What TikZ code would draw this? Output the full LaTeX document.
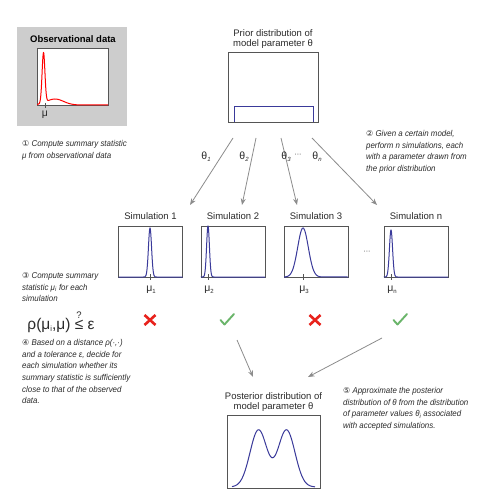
\documentclass[tikz,border=0pt]{standalone}
\usepackage{amsmath}
\usepackage{fontspec}
\setmainfont{Liberation Sans}
\newfontfamily\narrowfont[FakeStretch=0.93]{Liberation Sans}
\newfontfamily\circfont{DejaVu Sans}
\usetikzlibrary{arrows.meta}
\definecolor{plotblue}{HTML}{3A3A9A}
\definecolor{arrowgrey}{HTML}{8C8C8C}
\definecolor{boxgrey}{HTML}{CDCDCD}
\definecolor{xred}{HTML}{E8221C}
\definecolor{okgreen}{HTML}{6AB56A}
\definecolor{framegrey}{HTML}{555555}
\definecolor{textgrey}{HTML}{2A2A2A}
\newcommand\circnum[1]{{\circfont\fontsize{8}{8}\selectfont #1}}
\newcommand\smallsub[1]{\raisebox{-2pt}{\fontsize{6}{6}\selectfont #1}}
\begin{document}
\begin{tikzpicture}[x=1pt,y=-1pt,
  plotbox/.style={draw=framegrey, line width=0.6pt, fill=white, inner sep=0pt},
  steptext/.style={anchor=north west, inner sep=0pt, align=left, text=textgrey,
     font=\narrowfont\itshape\fontsize{8.5}{11.6}\selectfont},
  lbl/.style={inner sep=0pt, text=textgrey, font=\fontsize{9.5}{10.5}\selectfont},
  mulbl/.style={inner sep=0pt, text=textgrey, font=\fontsize{10.5}{11}\selectfont},
  flow/.style={draw=arrowgrey, line width=0.8pt, -{Stealth[length=6.5pt,width=5pt]}},
  curve/.style={plotblue, line width=1pt},
  tick/.style={framegrey, line width=0.6pt},
  xmark/.style={xred, line width=2.6pt},
  okmark/.style={okgreen, line width=1.9pt, line cap=round, line join=round},
  dotslbl/.style={inner sep=0pt, text=textgrey, font=\fontsize{7}{7}\selectfont}]
\useasboundingbox (0,0) rectangle (490,500);
\fill[white] (0,0) rectangle (490,500);

% ---- Observational data
\node[fill=boxgrey, minimum width=110pt, minimum height=99pt, inner sep=0pt] (obsbg) at (72,76.5) {};
\node[inner sep=0pt, font=\bfseries\fontsize{9.5}{11}\selectfont] (obstitle) at (73,39) {Observational data};
\node[plotbox, minimum width=71pt, minimum height=57pt] (obsplot) at (72.5,76.5) {};
\draw[red, line width=1pt] (37.5,105)
  -- plot[domain=38:50, samples=80, smooth] (\x, {105 - 50*exp(-((\x-43.5)/2)^2) - 6*exp(-((\x-55)/12)^2)})
  -- plot[domain=50:88, samples=40, smooth] (\x, {105 - 6*exp(-((\x-55)/12)^2)})
  -- (108,105);
\draw[tick] (45,103) -- (45,108);
\node[mulbl] (muobs) at (45,115) {μ};
\node[steptext] (step1) at (22,140.5) {\circnum{①} Compute summary statistic\\μ from observational data};

% ---- Prior
\node[lbl, align=center] (priortitle) at (273,39) {Prior distribution of\\model parameter θ};
\node[plotbox, minimum width=90pt, minimum height=70pt] (prior) at (273,87) {};
\draw[curve] (234,122) -- (234,107) -- (313,107) -- (313,122);

\node[steptext] (step2) at (366,130.3) {\circnum{②} Given a certain model,\\perform n simulations, each\\with a parameter drawn from\\the prior distribution};

% ---- arrows prior -> simulations
\coordinate (p1) at (233,138); \coordinate (e1) at (190,205);
\coordinate (p2) at (256,138); \coordinate (e2) at (242,205);
\coordinate (p3) at (281,138); \coordinate (e3) at (297,205);
\coordinate (p4) at (312,138); \coordinate (e4) at (377,205);
\draw[flow] (p1) -- (e1);
\draw[flow] (p2) -- (e2);
\draw[flow] (p3) -- (e3);
\draw[flow] (p4) -- (e4);
\node[mulbl] (th1) at (206,157) {θ\smallsub{\itshape 1}};
\node[mulbl] (th2) at (244,157) {θ\smallsub{\itshape 2}};
\node[mulbl] (th3) at (286,157) {θ\smallsub{\itshape 3}};
\node[dotslbl] (thdots) at (298,155) {···};
\node[mulbl] (thn) at (317,157) {θ\smallsub{\itshape n}};

% ---- Simulations
\foreach \n/\cx/\px/\s/\h/\da/\db in {1/150.5/150/2.2/49/142/158, 2/233/208/2/51/201/215, 3/316/303/7.5/49/285/322, n/416/391/2.2/47/384/399}{
  \node[plotbox, minimum width=64pt, minimum height=51pt] (sim\n) at (\cx,251.5) {};
  \node[lbl] (t\n) at (\cx,216) {Simulation \n};
  \draw[curve] (\cx-32,277) -- (\da,277)
     -- plot[domain=\da:\db, samples=60, smooth] (\x, {277 - \h*exp(-((\x-\px)/\s)^2)})
     -- (\cx+32,277);
  \draw[tick] (\px,274) -- (\px,280);
  \node[mulbl] (mu\n) at (\px+1,290) {μ\smallsub{\n}};
}
\node[dotslbl] (simdots) at (367,252) {···};

% ---- acceptance marks
\node[inner sep=0pt, minimum size=12pt] (m1) at (150,320) {};
\node[inner sep=0pt, minimum size=12pt] (m2) at (227,320) {};
\node[inner sep=0pt, minimum size=12pt] (m3) at (315,320) {};
\node[inner sep=0pt, minimum size=12pt] (m4) at (400,320) {};
\foreach \m in {m1,m3}{
  \draw[xmark] ([shift={(-5.5,-5)}]\m.center) -- ([shift={(5.5,5)}]\m.center);
  \draw[xmark] ([shift={(-5.5,5)}]\m.center) -- ([shift={(5.5,-5)}]\m.center);
}
\foreach \m in {m2,m4}{
  \draw[okmark] ([shift={(-6.5,0)}]\m.center) -- ([shift={(-2.5,4.5)}]\m.center) -- ([shift={(7,-6)}]\m.center);
}

% ---- step 3 and formula
\node[steptext] (step3) at (22,272.3) {\circnum{③} Compute summary\\statistic μ\textsubscript{i} for each\\simulation};
\node[inner sep=0pt, text=textgrey, font=\fontsize{15.5}{16}\selectfont] (formula) at (61,322)
  {ρ(μ\raisebox{-2pt}{\fontsize{7.5}{7.5}\selectfont i},μ) $\overset{\raisebox{-2pt}{\fontsize{9.5}{9.5}\selectfont ?}}{\text{≤}}$ ε};
\node[steptext] (step4) at (22,339.3) {\circnum{④} Based on a distance ρ(·,·)\\and a tolerance ε, decide for\\each simulation whether its\\summary statistic is sufficiently\\close to that of the observed\\data.};

% ---- posterior
\coordinate (a1) at (237,340); \coordinate (b1) at (253,377);
\coordinate (a2) at (382,338); \coordinate (b2) at (308,377);
\draw[flow] (a1) -- (b1);
\draw[flow] (a2) -- (b2);
\node[lbl, align=center] (posttitle) at (273.5,402) {Posterior distribution of\\model parameter θ};
\node[plotbox, minimum width=93pt, minimum height=73pt] (post) at (273.5,451.5) {};
\draw[curve] plot[domain=232:315, samples=120, smooth]
  (\x, {487 - 57*(exp(-((\x-258.5)/12)^2) + exp(-((\x-286.5)/12)^2))});
\node[steptext] (step5) at (343,387.3) {\circnum{⑤} Approximate the posterior\\distribution of θ from the distribution\\of parameter values θ\textsubscript{i} associated\\with accepted simulations.};
\end{tikzpicture}
\end{document}
